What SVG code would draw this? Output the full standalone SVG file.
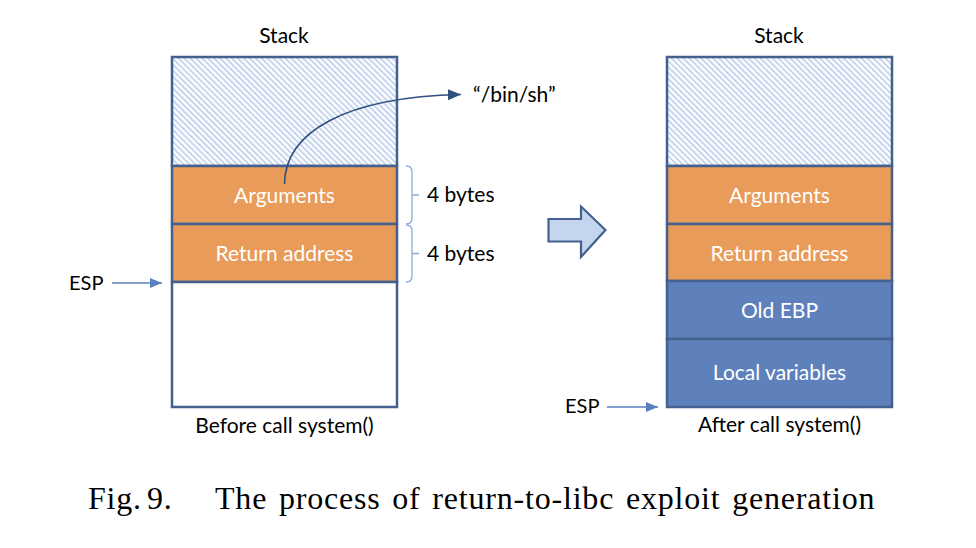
<svg xmlns="http://www.w3.org/2000/svg" width="976" height="548" viewBox="0 0 976 548">
<defs>
<pattern id="hatch" width="4.2" height="4.2" patternUnits="userSpaceOnUse" patternTransform="rotate(-45)">
<rect width="4.2" height="4.2" fill="#ffffff"/>
<rect width="2" height="4.2" fill="#c6d5ee"/>
</pattern>
<marker id="espHead" markerWidth="12" markerHeight="10" refX="12" refY="5" orient="auto" markerUnits="userSpaceOnUse">
<path d="M0,0 L12,5 L0,10 Z" fill="#5b80c2"/>
</marker>
<marker id="curveHead" markerWidth="13" markerHeight="11" refX="13" refY="5.5" orient="auto" markerUnits="userSpaceOnUse">
<path d="M0,0 L13,5.5 L0,11 Z" fill="#2f4f7f"/>
</marker>
</defs>
<style>
text{font-family:Lato,"Liberation Sans",sans-serif;}
.lbl{font-size:21px;fill:#000;}
.esplbl{font-size:20px;fill:#000;}
.in{font-size:21px;fill:#fff;text-anchor:middle;}
.hat{fill:url(#hatch);stroke:#44608f;stroke-width:2.5;}
.org{fill:#e99b59;stroke:#44608f;stroke-width:2.5;}
.blu{fill:#5e81bc;stroke:#44608f;stroke-width:2.5;}
.emp{fill:#ffffff;stroke:#44608f;stroke-width:2.5;}
.brace{fill:none;stroke:#8eaad8;stroke-width:1.3;}
.esp{stroke:#5b80c2;stroke-width:1.3;fill:none;marker-end:url(#espHead);}
.cap{font-family:"Liberation Serif","Times New Roman",serif;font-size:32px;fill:#000;letter-spacing:0.8px;}
</style>

<g id="left-stack">
<text class="lbl" x="284" y="43" text-anchor="middle">Stack</text>
<rect class="hat" x="172" y="57" width="225" height="109"/>
<rect class="org" x="172" y="166" width="225" height="58"/>
<text class="in" x="284.5" y="203">Arguments</text>
<rect class="org" x="172" y="224" width="225" height="58"/>
<text class="in" x="284.5" y="261">Return address</text>
<rect class="emp" x="172" y="282" width="225" height="125"/>
<text class="lbl" x="284.5" y="433" text-anchor="middle">Before call system()</text>
</g>

<g id="right-stack">
<text class="lbl" x="779" y="43" text-anchor="middle">Stack</text>
<rect class="hat" x="667" y="57" width="225" height="109"/>
<rect class="org" x="667" y="166" width="225" height="58"/>
<text class="in" x="779.5" y="203">Arguments</text>
<rect class="org" x="667" y="224" width="225" height="57"/>
<text class="in" x="779.5" y="261">Return address</text>
<rect class="blu" x="667" y="281" width="225" height="58"/>
<text class="in" x="779.5" y="318">Old EBP</text>
<rect class="blu" x="667" y="339" width="225" height="68"/>
<text class="in" x="779.5" y="380">Local variables</text>
<text class="lbl" x="779.5" y="432" text-anchor="middle">After call system()</text>
</g>

<g id="braces">
<path class="brace" d="M406,166 Q412,166 412,172 L412,195 L419,195 M412,195 L412,218 Q412,224 406,224"/>
<text class="lbl" x="427" y="202">4 bytes</text>
<path class="brace" d="M406,225 Q412,225 412,231 L412,253.5 L419,253.5 M412,253.5 L412,276 Q412,282 406,282"/>
<text class="lbl" x="427" y="261">4 bytes</text>
</g>

<g id="binsh">
<text class="lbl" x="473" y="102">“/bin/sh”</text>
</g>

<g id="esp-left">
<text class="esplbl" x="69" y="290">ESP</text>
</g>
<g id="esp-right">
<text class="esplbl" x="565" y="413">ESP</text>
</g>

<g id="transition-arrow">
<path d="M548.5,219 L581,219 L581,206.5 L605.5,230 L581,257 L581,241.5 L548.5,241.5 Z" fill="#c6d5ee" stroke="#44608f" stroke-width="2.2" stroke-linejoin="miter"/>
</g>

<g id="connectors">
<path d="M284.5,184 C285,132 345,97 461,94.5" fill="none" stroke="#2f4f7f" stroke-width="1.6" marker-end="url(#curveHead)"/>
<path class="esp" d="M112,283 L162,283"/>
<path class="esp" d="M607,407 L658,407"/>
</g>

<g id="caption">
<text class="cap" x="88" y="509">Fig.</text>
<text class="cap" x="147" y="509">9.</text>
<text class="cap" x="215" y="509" word-spacing="3">The process of return-to-libc exploit generation</text>
</g>
</svg>
